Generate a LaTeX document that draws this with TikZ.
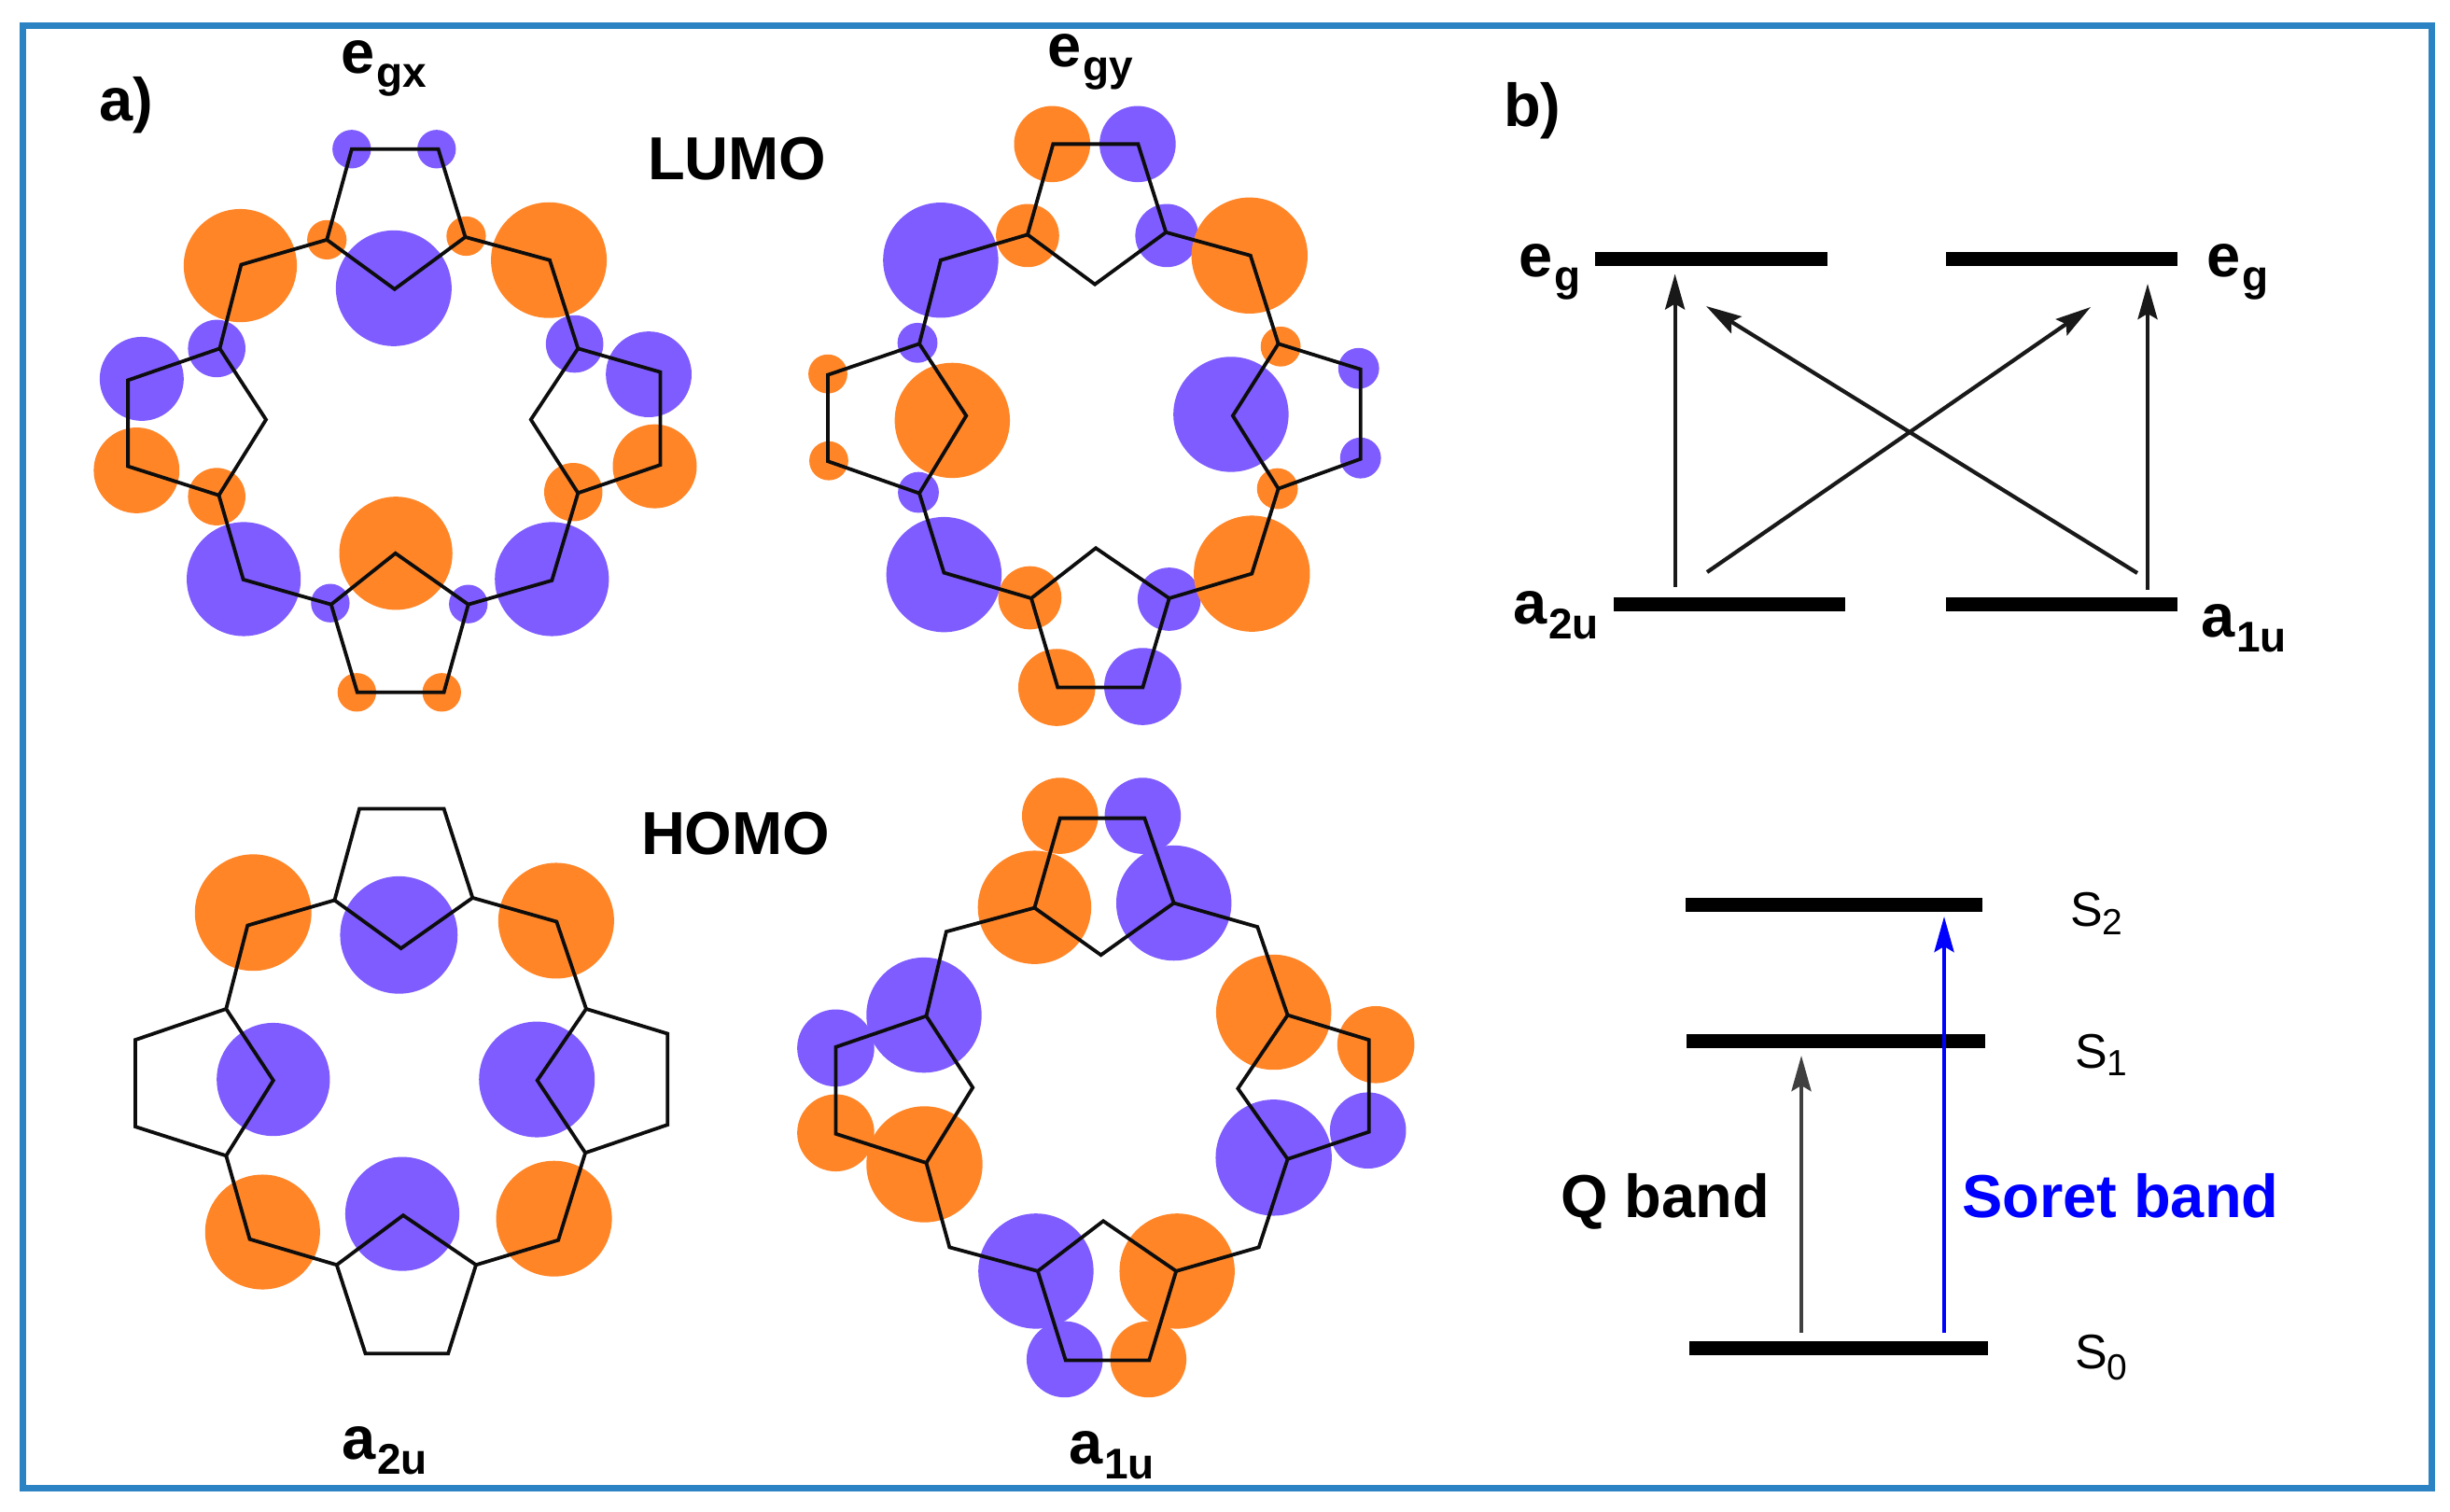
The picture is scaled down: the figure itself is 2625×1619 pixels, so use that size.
\documentclass[tikz,border=0pt]{standalone}
\usepackage{fontspec}
\setmainfont{Liberation Sans}
\usetikzlibrary{arrows.meta}
\definecolor{orb1}{HTML}{FF8527}
\definecolor{orb2}{HTML}{7F5CFF}
\definecolor{frame}{HTML}{2B83C3}
\newcommand\orb[4]{\fill[#4] (#1,#2) circle[radius=#3*\ku pt];}
\newcommand\mosub[3][7.5pt]{\fontsize{32.5}{32.5}\selectfont\bfseries #2\kern1pt\raisebox{-#1}{\fontsize{23}{23}\selectfont #3}}
\newcommand\ssub[3]{\fontsize{26}{26}\selectfont #1\raisebox{-#3}{\fontsize{19.5}{19.5}\selectfont #2}}
\tikzset{
  bond/.style={draw=black!95,line width=1.9pt,line join=miter},
  lev/.style={fill=black,inner sep=0pt,minimum height=7.5pt},
  lab/.style={anchor=base west,inner sep=0pt,outer sep=0pt},
  arr/.style={line width=2.1pt,-{Stealth[length=19pt,width=10.5pt,inset=3pt]},black!90},
  heading/.style={lab,font=\fontsize{32.5}{32.5}\selectfont\bfseries}
}
\begin{document}
\begin{tikzpicture}[x=0.5pt,y=-0.5pt]
\useasboundingbox (0,0) rectangle (2625,1619);
\fill[white] (0,0) rectangle (2625,1619);
\draw[frame,line width=3.5pt] (24,27) rectangle (2605,1594);

% ---------- e_gx ----------
\begin{scope}[shift={(60,20)},x=0.2296pt,y=-0.2427pt]
\def\ku{0.2296}
\orb{690}{288}{45}{orb2}\orb{888}{288}{45}{orb2}
\orb{430}{545}{132}{orb1}\orb{1150}{533}{135}{orb1}
\orb{632}{488}{46}{orb1}\orb{957}{480}{46}{orb1}
\orb{788}{595}{135}{orb2}
\orb{375}{728}{67}{orb2}\orb{1210}{718}{67}{orb2}
\orb{200}{795}{98}{orb2}\orb{1383}{785}{100}{orb2}
\orb{188}{997}{100}{orb1}\orb{1397}{988}{98}{orb1}
\orb{375}{1055}{67}{orb1}\orb{1207}{1045}{68}{orb1}
\orb{438}{1237}{133}{orb2}\orb{1157}{1237}{133}{orb2}
\orb{793}{1180}{132}{orb1}
\orb{640}{1290}{45}{orb2}\orb{962}{1292}{45}{orb2}
\orb{702}{1487}{45}{orb1}\orb{900}{1487}{45}{orb1}
\draw[bond] (690,288)--(892,288)--(955,482)--(790,597)--(632,488)--cycle;
\draw[bond] (632,488)--(432,543)--(382,728)--(168,798)--(168,988)--(380,1052)--(490,885)--(382,728);
\draw[bond] (380,1052)--(437,1238)--(642,1293)--(792,1180)--(962,1293)--(905,1487)--(703,1487)--(642,1293);
\draw[bond] (962,1293)--(1157,1240)--(1218,1047)--(1410,985)--(1410,780)--(1218,728)--(1108,885)--(1218,1047);
\draw[bond] (955,482)--(1152,533)--(1218,728);
\end{scope}

% ---------- e_gy ----------
\begin{scope}[shift={(780,20)},x=0.2488pt,y=-0.2488pt]
\def\ku{0.2488}
\orb{698}{270}{82}{orb1}\orb{882}{270}{82}{orb2}
\orb{458}{520}{124}{orb2}\orb{645}{467}{68}{orb1}
\orb{945}{467}{68}{orb2}\orb{1123}{510}{125}{orb1}
\orb{408}{698}{43}{orb2}\orb{1190}{706}{43}{orb1}
\orb{215}{765}{42}{orb1}\orb{1358}{753}{44}{orb2}
\orb{483}{865}{124}{orb1}\orb{1083}{852}{124}{orb2}
\orb{217}{952}{42}{orb1}\orb{1362}{946}{44}{orb2}
\orb{410}{1020}{44}{orb2}\orb{1183}{1012}{44}{orb1}
\orb{465}{1197}{124}{orb2}\orb{650}{1247}{68}{orb1}
\orb{950}{1250}{68}{orb2}\orb{1128}{1195}{125}{orb1}
\orb{708}{1440}{83}{orb1}\orb{893}{1438}{83}{orb2}
\draw[bond] (700,270)--(883,270)--(943,460)--(790,572)--(645,465)--cycle;
\draw[bond] (645,465)--(458,520)--(412,700)--(215,767)--(215,953)--(412,1022)--(513,855)--(412,700);
\draw[bond] (412,1022)--(465,1193)--(653,1248)--(792,1140)--(950,1248)--(893,1440)--(710,1440)--(653,1248);
\draw[bond] (950,1248)--(1128,1195)--(1185,1012)--(1362,948)--(1362,755)--(1185,700)--(1087,855)--(1185,1012);
\draw[bond] (943,460)--(1125,510)--(1185,700);
\end{scope}

% ---------- a_2u ----------
\begin{scope}[shift={(60,800)},x=0.2296pt,y=-0.2554pt]
\def\ku{0.2296}
\orb{460}{348}{136}{orb1}\orb{1167}{365}{135}{orb1}
\orb{800}{395}{137}{orb2}
\orb{507}{698}{132}{orb2}\orb{1122}{698}{135}{orb2}
\orb{808}{980}{133}{orb2}
\orb{482}{1018}{134}{orb1}\orb{1162}{990}{135}{orb1}
\draw[bond] (708,130)--(905,130)--(972,317)--(805,423)--(650,322)--cycle;
\draw[bond] (650,322)--(447,375)--(397,550)--(185,615)--(185,797)--(397,858)--(507,700)--(397,550);
\draw[bond] (397,858)--(452,1033)--(655,1087)--(810,983)--(980,1087)--(915,1273)--(722,1273)--(655,1087);
\draw[bond] (980,1087)--(1172,1035)--(1235,852)--(1427,793)--(1427,602)--(1237,550)--(1123,700)--(1235,852);
\draw[bond] (972,317)--(1168,367)--(1237,550);
\end{scope}

% ---------- a_1u ----------
\begin{scope}[shift={(780,800)},x=0.2488pt,y=-0.2554pt]
\def\ku{0.2488}
\orb{715}{145}{82}{orb1}\orb{893}{145}{82}{orb2}
\orb{660}{337}{122}{orb1}\orb{960}{328}{124}{orb2}
\orb{422}{563}{124}{orb2}\orb{1175}{557}{124}{orb1}
\orb{232}{632}{83}{orb2}\orb{1395}{625}{83}{orb1}
\orb{232}{810}{83}{orb1}\orb{1378}{805}{82}{orb2}
\orb{423}{876}{125}{orb1}\orb{1175}{862}{125}{orb2}
\orb{663}{1100}{124}{orb2}\orb{967}{1100}{124}{orb1}
\orb{725}{1285}{82}{orb2}\orb{905}{1285}{82}{orb1}
\draw[bond] (715,150)--(897,150)--(960,328)--(803,437)--(660,338)--cycle;
\draw[bond] (660,338)--(470,388)--(427,565)--(232,630)--(232,812)--(427,873)--(527,715)--(427,565);
\draw[bond] (427,873)--(477,1050)--(667,1100)--(808,995)--(965,1100)--(907,1287)--(727,1287)--(667,1100);
\draw[bond] (965,1100)--(1143,1050)--(1205,865)--(1380,808)--(1380,615)--(1205,563)--(1098,717)--(1205,865);
\draw[bond] (960,328)--(1140,378)--(1205,563);
\end{scope}

% ---------- labels, panel a ----------
\node[heading] (labA) at (106,129) {a)};
\node[lab] (egx) at (365,78) {\mosub{e}{gx}};
\node[lab] (egy) at (1122,71) {\mosub{e}{gy}};
\node[heading] (lumo) at (694,192) {LUMO};
\node[heading] (homo) at (687,915) {HOMO};
\node[lab] (a2ulab) at (366,1563) {\mosub[8pt]{a}{2u}};
\node[lab] (a1ulab) at (1145,1568) {\mosub[8pt]{a}{1u}};

% ---------- panel b, orbital levels ----------
\node[heading] (labB) at (1611,135) {b)};
\node[lev,minimum width=124.5pt] (egL) at (1833.5,277.5) {};
\node[lev,minimum width=124pt] (egR) at (2209,277.5) {};
\node[lev,minimum width=124pt] (auL) at (1853,647.5) {};
\node[lev,minimum width=124pt] (auR) at (2209,647.5) {};
\node[lab] (egLl) at (1627,296) {\mosub{e}{g}};
\node[lab] (egRl) at (2364,296) {\mosub{e}{g}};
\node[lab] (auLl) at (1621,668) {\mosub[8pt]{a}{2u}};
\node[lab] (auRl) at (2358,682) {\mosub[8pt]{a}{1u}};
\coordinate (v1s) at (1794.6,629); \coordinate (v1e) at (1794.6,293.5);
\coordinate (v2s) at (2301,632); \coordinate (v2e) at (2301,304);
\coordinate (d1s) at (1829,613); \coordinate (d1e) at (2240,329);
\coordinate (d2s) at (2290,614); \coordinate (d2e) at (1828,328);
\draw[arr] (v1s) -- (v1e);
\draw[arr] (v2s) -- (v2e);
\draw[arr] (d1s) -- (d1e);
\draw[arr] (d2s) -- (d2e);

% ---------- panel b, states ----------
\node[lev,minimum width=159pt] (S2) at (1965,969) {};
\node[lev,minimum width=160pt] (S1) at (1967,1115) {};
\node[lev,minimum width=160pt] (S0) at (1970,1444) {};
\node[lab] (S2l) at (2218,992) {\ssub{S}{2}{4.5pt}};
\node[lab] (S1l) at (2223,1144) {\ssub{S}{1}{4pt}};
\node[lab] (S0l) at (2223,1466) {\ssub{S}{0}{6pt}};
\coordinate (qs) at (1930,1428); \coordinate (qe) at (1930,1131);
\coordinate (bs) at (2083,1428); \coordinate (be) at (2083,982);
\draw[arr,black!75] (qs) -- (qe);
\draw[arr,blue] (bs) -- (be);
\node[heading] (qband) at (1672,1304) {Q band};
\node[heading,text=blue] (soret) at (2102,1304) {Soret band};
\end{tikzpicture}
\end{document}
